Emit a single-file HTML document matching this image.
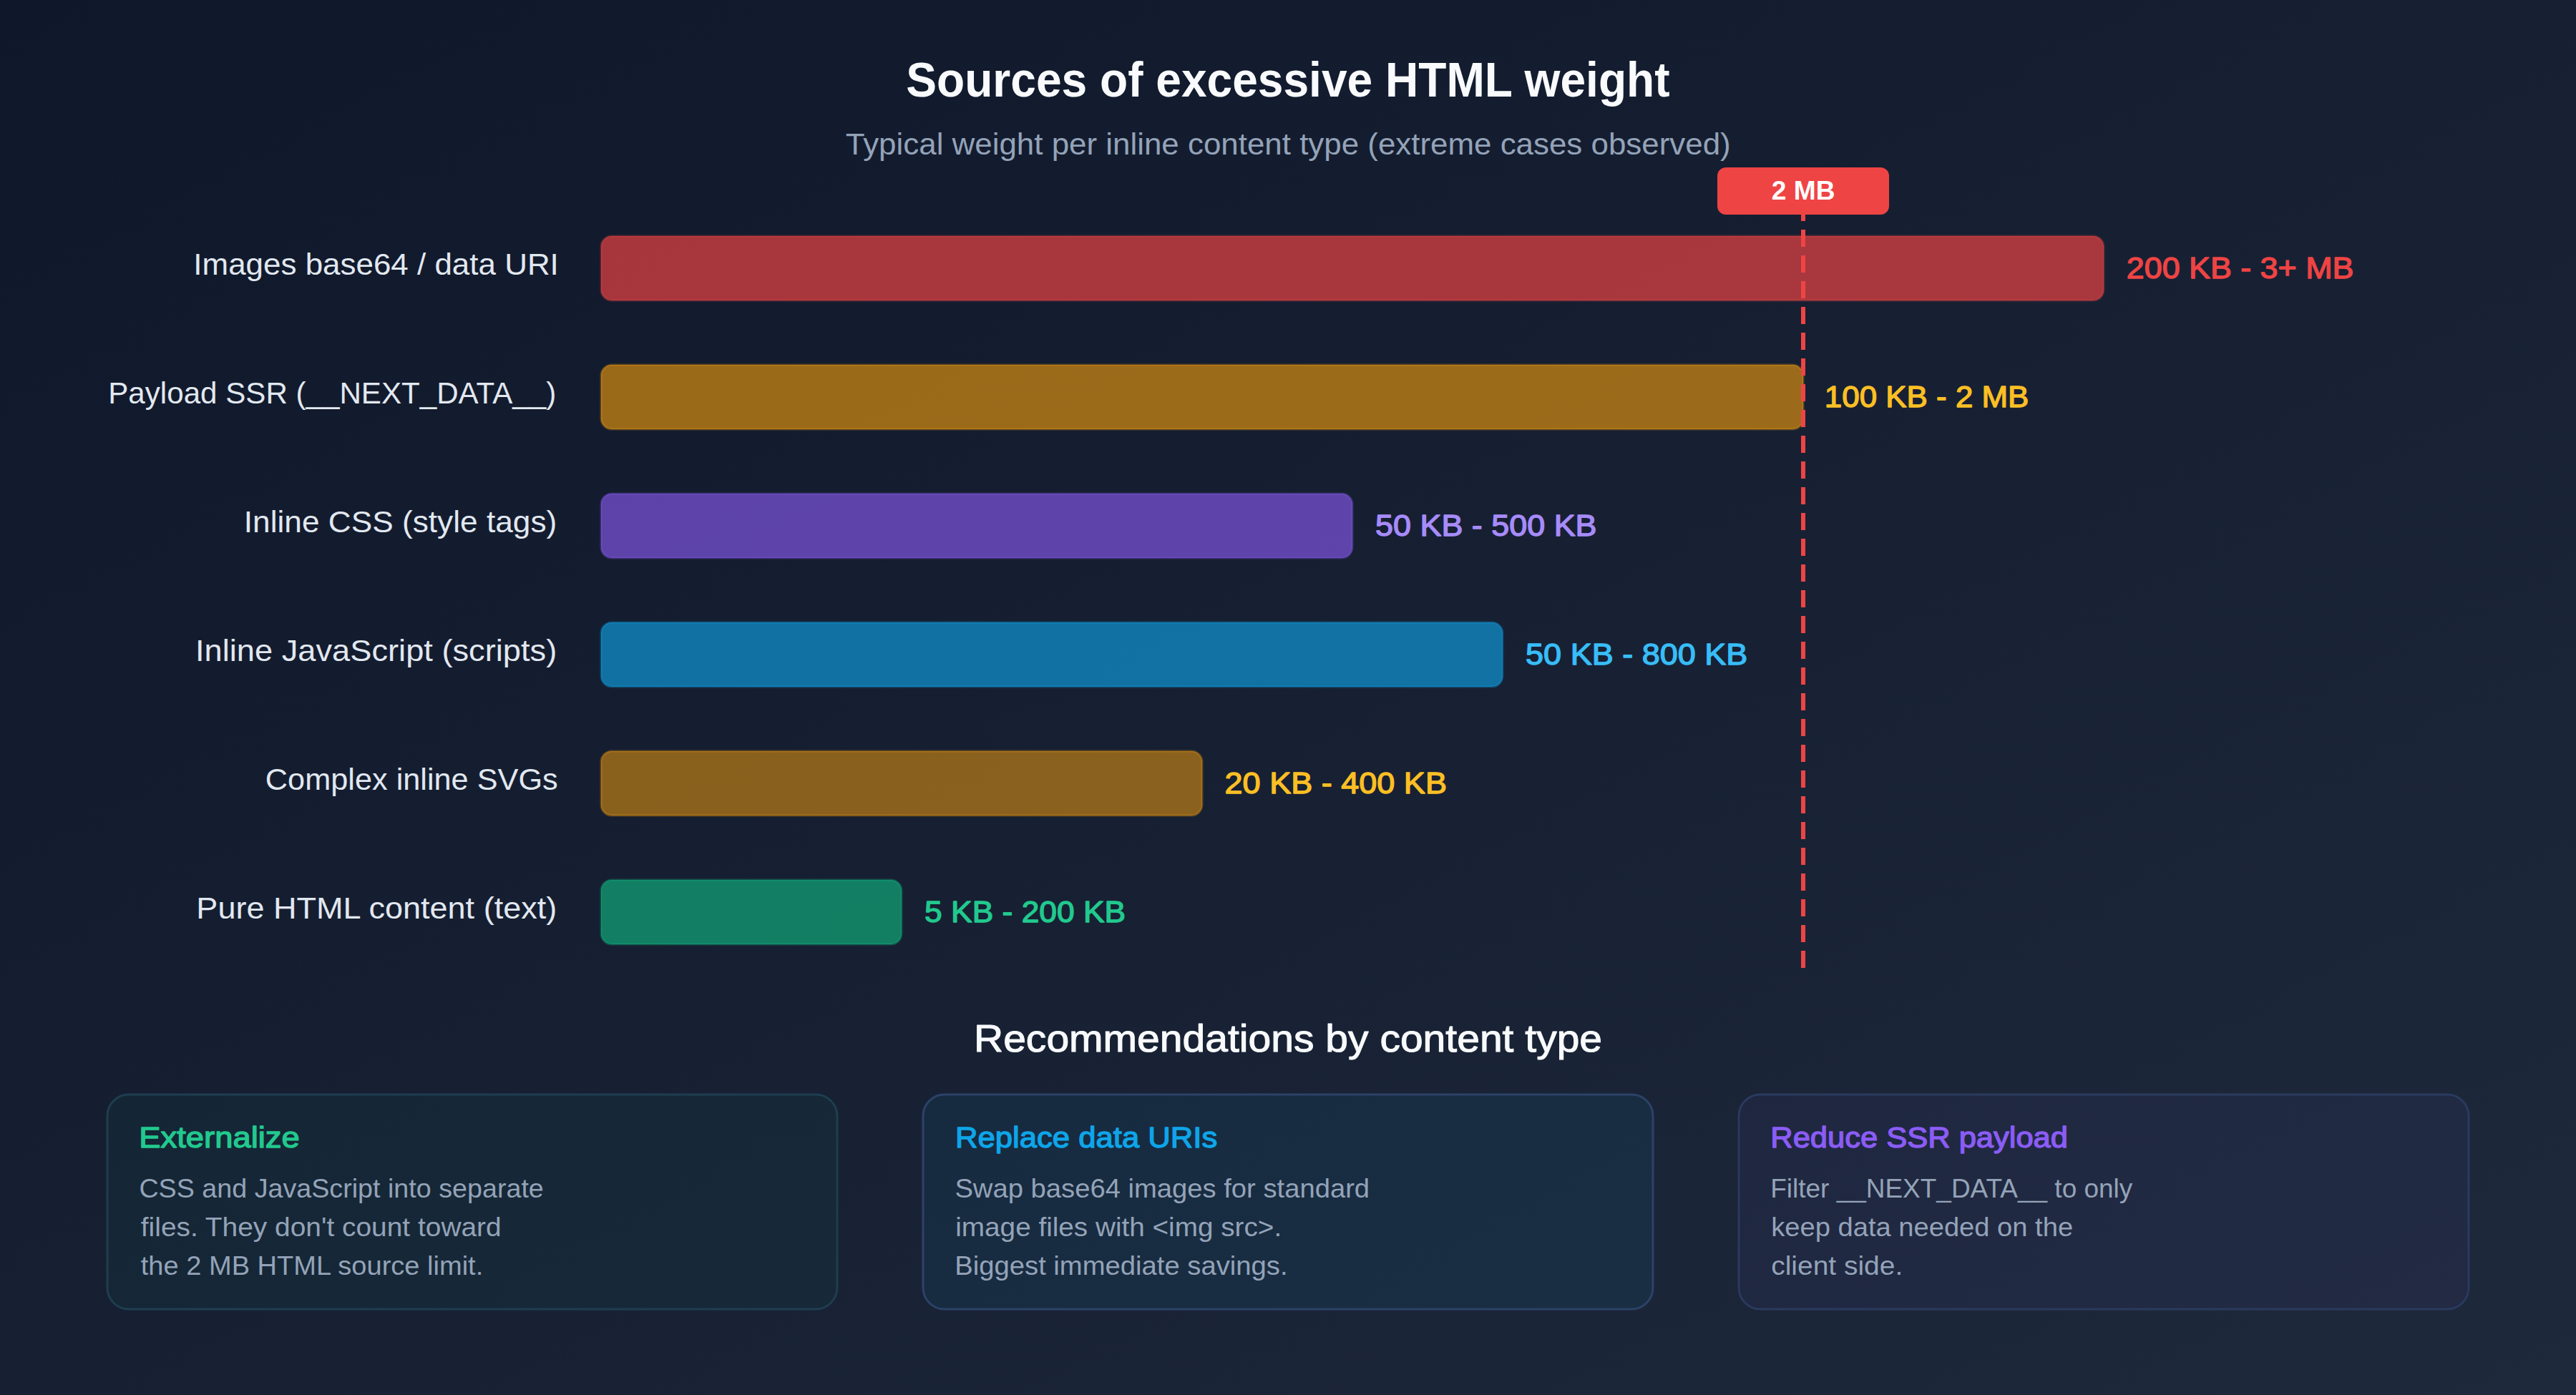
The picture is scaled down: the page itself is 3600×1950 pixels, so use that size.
<!DOCTYPE html>
<html><head><meta charset="utf-8">
<style>
html,body{margin:0;padding:0;background:#0f172a;overflow:hidden}
svg{display:block}
text{font-family:"Liberation Sans",sans-serif}
</style></head>
<body>
<svg viewBox="0 0 1200 650" preserveAspectRatio="xMidYMid meet" style="display:block;width:100vw;height:auto">
<defs>
<linearGradient id="bg" x1="0" y1="0" x2="1" y2="1">
<stop offset="0" stop-color="#0f172a"/>
<stop offset="1" stop-color="#1e293b"/>
</linearGradient>
</defs>
<rect x="0" y="0" width="1200" height="650" fill="url(#bg)"/>

<text x="422.10" y="45" font-size="23" font-weight="700" fill="#f8fafc" textLength="355.74" lengthAdjust="spacingAndGlyphs">Sources of excessive HTML weight</text>
<text x="393.93" y="72" font-size="14" fill="#94a3b8" textLength="412.30" lengthAdjust="spacingAndGlyphs">Typical weight per inline content type (extreme cases observed)</text>
<text x="90.11" y="128" font-size="14.4" fill="#e2e8f0" textLength="170.17" lengthAdjust="spacingAndGlyphs">Images base64 / data URI</text>
<text x="50.42" y="188" font-size="14.4" fill="#e2e8f0" textLength="208.65" lengthAdjust="spacingAndGlyphs">Payload SSR (__NEXT_DATA__)</text>
<text x="113.61" y="248" font-size="14.4" fill="#e2e8f0" textLength="145.80" lengthAdjust="spacingAndGlyphs">Inline CSS (style tags)</text>
<text x="91.01" y="308" font-size="14.4" fill="#e2e8f0" textLength="168.40" lengthAdjust="spacingAndGlyphs">Inline JavaScript (scripts)</text>
<text x="123.63" y="368" font-size="14.4" fill="#e2e8f0" textLength="136.28" lengthAdjust="spacingAndGlyphs">Complex inline SVGs</text>
<text x="91.45" y="428" font-size="14.4" fill="#e2e8f0" textLength="167.96" lengthAdjust="spacingAndGlyphs">Pure HTML content (text)</text>
<rect x="280" y="110" width="700" height="30" rx="5" fill="#ef4444" fill-opacity="0.68" stroke="#ef4444" stroke-opacity="0.3" stroke-width="1"/>
<rect x="280" y="170" width="560" height="30" rx="5" fill="#f59e0b" fill-opacity="0.6" stroke="#f59e0b" stroke-opacity="0.3" stroke-width="1"/>
<rect x="280" y="230" width="350" height="30" rx="5" fill="#8b5cf6" fill-opacity="0.62" stroke="#8b5cf6" stroke-opacity="0.3" stroke-width="1"/>
<rect x="280" y="290" width="420" height="30" rx="5" fill="#0ea5e9" fill-opacity="0.62" stroke="#0ea5e9" stroke-opacity="0.3" stroke-width="1"/>
<rect x="280" y="350" width="280" height="30" rx="5" fill="#f59e0b" fill-opacity="0.52" stroke="#f59e0b" stroke-opacity="0.3" stroke-width="1"/>
<rect x="280" y="410" width="140" height="30" rx="5" fill="#10b981" fill-opacity="0.62" stroke="#10b981" stroke-opacity="0.3" stroke-width="1"/>
<text x="990.60" y="129.75" font-size="13.9" stroke="#ef4444" stroke-width="0.45" stroke-linejoin="round" fill="#ef4444" textLength="105.85" lengthAdjust="spacingAndGlyphs">200 KB - 3+ MB</text>
<text x="849.95" y="189.75" font-size="13.9" stroke="#fbbf24" stroke-width="0.45" stroke-linejoin="round" fill="#fbbf24" textLength="95.19" lengthAdjust="spacingAndGlyphs">100 KB - 2 MB</text>
<text x="640.70" y="249.75" font-size="13.9" stroke="#a78bfa" stroke-width="0.45" stroke-linejoin="round" fill="#a78bfa" textLength="103.14" lengthAdjust="spacingAndGlyphs">50 KB - 500 KB</text>
<text x="710.70" y="309.75" font-size="13.9" stroke="#38bdf8" stroke-width="0.45" stroke-linejoin="round" fill="#38bdf8" textLength="103.38" lengthAdjust="spacingAndGlyphs">50 KB - 800 KB</text>
<text x="570.53" y="369.75" font-size="13.9" stroke="#fbbf24" stroke-width="0.45" stroke-linejoin="round" fill="#fbbf24" textLength="103.45" lengthAdjust="spacingAndGlyphs">20 KB - 400 KB</text>
<text x="430.70" y="429.75" font-size="13.9" stroke="#22c98e" stroke-width="0.45" stroke-linejoin="round" fill="#22c98e" textLength="93.68" lengthAdjust="spacingAndGlyphs">5 KB - 200 KB</text>
<line x1="840" y1="95" x2="840" y2="455" stroke="#ef4444" stroke-width="2" stroke-dasharray="8 4"/>
<rect x="800" y="78" width="80" height="22" rx="4" fill="#ef4444"/>
<text x="825.25" y="93" font-size="12.2" font-weight="700" fill="#ffffff" textLength="29.60" lengthAdjust="spacingAndGlyphs">2 MB</text>
<text x="453.66" y="490" font-size="18.0" stroke="#f8fafc" stroke-width="0.35" stroke-linejoin="round" fill="#f8fafc" textLength="292.71" lengthAdjust="spacingAndGlyphs">Recommendations by content type</text>
<rect x="50" y="510" width="340" height="100" rx="10" fill="#10b981" fill-opacity="0.05" stroke="#1e3e50" stroke-width="1"/>
<rect x="430" y="510" width="340" height="100" rx="10" fill="#0ea5e9" fill-opacity="0.07" stroke="#2c4268" stroke-width="1"/>
<rect x="810" y="510" width="340" height="100" rx="10" fill="#8b5cf6" fill-opacity="0.05" stroke="#2a3a5f" stroke-width="1"/>
<text x="64.75" y="534.75" font-size="13.8" stroke="#22c98e" stroke-width="0.45" stroke-linejoin="round" fill="#22c98e" textLength="74.86" lengthAdjust="spacingAndGlyphs">Externalize</text>
<text x="444.99" y="534.75" font-size="13.8" stroke="#0ea5e9" stroke-width="0.45" stroke-linejoin="round" fill="#0ea5e9" textLength="122.12" lengthAdjust="spacingAndGlyphs">Replace data URIs</text>
<text x="824.75" y="534.75" font-size="13.8" stroke="#8b5cf6" stroke-width="0.45" stroke-linejoin="round" fill="#8b5cf6" textLength="138.56" lengthAdjust="spacingAndGlyphs">Reduce SSR payload</text>
<text x="64.80" y="558" font-size="12.5" fill="#94a3b8" textLength="188.47" lengthAdjust="spacingAndGlyphs">CSS and JavaScript into separate</text>
<text x="65.60" y="576" font-size="12.5" fill="#94a3b8" textLength="167.97" lengthAdjust="spacingAndGlyphs">files. They don't count toward</text>
<text x="65.60" y="594" font-size="12.5" fill="#94a3b8" textLength="159.48" lengthAdjust="spacingAndGlyphs">the 2 MB HTML source limit.</text>
<text x="444.80" y="558" font-size="12.5" fill="#94a3b8" textLength="193.24" lengthAdjust="spacingAndGlyphs">Swap base64 images for standard</text>
<text x="445.09" y="576" font-size="12.5" fill="#94a3b8" textLength="151.96" lengthAdjust="spacingAndGlyphs">image files with &lt;img src&gt;.</text>
<text x="444.75" y="594" font-size="12.5" fill="#94a3b8" textLength="155.10" lengthAdjust="spacingAndGlyphs">Biggest immediate savings.</text>
<text x="824.76" y="558" font-size="12.5" fill="#94a3b8" textLength="168.67" lengthAdjust="spacingAndGlyphs">Filter __NEXT_DATA__ to only</text>
<text x="825.09" y="576" font-size="12.5" fill="#94a3b8" textLength="140.62" lengthAdjust="spacingAndGlyphs">keep data needed on the</text>
<text x="825.08" y="594" font-size="12.5" fill="#94a3b8" textLength="61.35" lengthAdjust="spacingAndGlyphs">client side.</text>

</svg>
</body></html>
